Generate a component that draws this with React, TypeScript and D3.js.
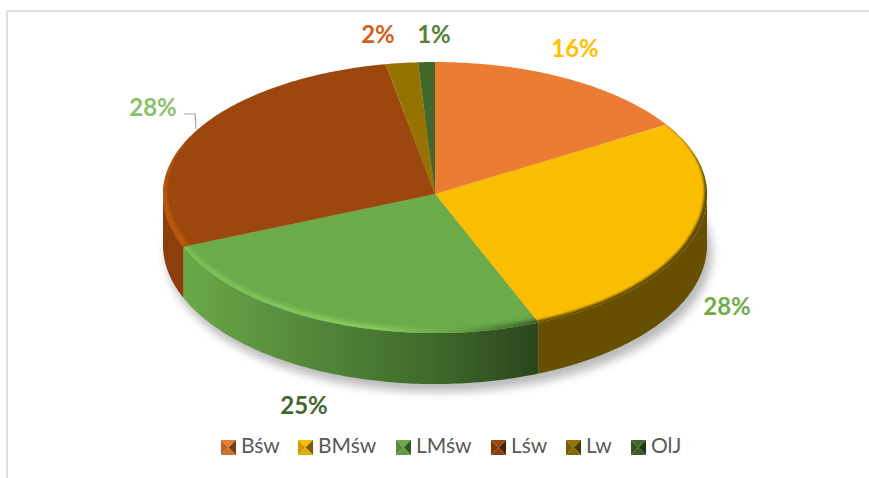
import React from "react";
import * as d3 from "d3";

const categories = ["Bśw", "BMśw", "LMśw", "Lśw", "Lw", "OlJ"];
const shares = [16.2, 27.6, 25.0, 28.3, 1.9, 1.0];
const topColors = ["#ea7d33", "#fbbd00", "#6cab4a", "#9b470d", "#967200", "#43682b"];
const sideColors = ["#8c4a1e", "#664f00", "url(#greenSide)", "#8d3f0b", "#5a4400", "#283e1a"];
const labelColors = ["#ffc000", "#70ad47", "#43682b", "#8cc168", "#d2601a", "#548235"];
const labelCenters: [number, number][] = [[575, 47], [727, 305], [304, 404], [153, 106], [378, 33], [434, 33]];
const legendLeft = [221, 298, 396, 491, 566, 631];

const W = 869, H = 478;
const cx = 435, cy = 194, rx = 272, ryBack = 132, ryFront = 139, depth = 51;

const pie = d3.pie<number>().sort(null)(shares);
const pt = (a: number, dy = 0, k = 1): [number, number] => {
  const c = Math.cos(a);
  return [cx + k * rx * Math.sin(a), cy + dy - k * (c > 0 ? ryBack : ryFront) * c];
};
const anglesBetween = (a0: number, a1: number) => {
  const n = Math.max(2, Math.ceil((a1 - a0) * 60));
  return d3.range(n + 1).map((i) => a0 + ((a1 - a0) * i) / n);
};
const lineGen = d3.line();

const topPath = (a0: number, a1: number) =>
  lineGen([[cx, cy], ...anglesBetween(a0, a1).map((a) => pt(a))]) + "Z";

function sidePath(a0: number, a1: number) {
  const s = Math.max(a0, Math.PI / 2), e = Math.min(a1, (3 * Math.PI) / 2);
  if (e <= s) return null;
  const as = anglesBetween(s, e);
  return lineGen([...as.map((a) => pt(a)), ...as.slice().reverse().map((a) => pt(a, depth))]) + "Z";
}
function rimLine(a0: number, a1: number, k = 1) {
  return lineGen(anglesBetween(a0, a1).map((a) => pt(a, 0, k))) as string;
}
// tapered band inside the top face's edge; taper maps an angle to a width in px
function crescent(a0: number, a1: number, taper: (a: number) => number) {
  const as = anglesBetween(a0, a1);
  return (
    lineGen([
      ...as.map((a) => pt(a, 0, 1.02)),
      ...as.slice().reverse().map((a) => pt(a, 0, 1 - taper(a) / rx)),
    ]) + "Z"
  );
}
const deg = (d: number) => (d * Math.PI) / 180;

function Swatch({ x, y, color }: { x: number; y: number; color: string }) {
  const s = 15;
  const c = d3.color(color)!;
  const mx = x + s / 2, my = y + s / 2;
  const tri = (a: [number, number], b: [number, number]) => lineGen([a, b, [mx, my]]) + "Z";
  return (
    <g>
      <path d={tri([x, y], [x + s, y])} fill={c.toString()} />
      <path d={tri([x + s, y], [x + s, y + s])} fill={c.darker(2).toString()} />
      <path d={tri([x, y + s], [x + s, y + s])} fill={c.darker(0.3).toString()} />
      <path d={tri([x, y], [x, y + s])} fill={c.darker(0.6).toString()} />
    </g>
  );
}

export default function App() {
  const [yellow, green, brown] = [pie[1], pie[2], pie[3]];
  return (
    <svg width={W} height={H} style={{ position: "fixed", left: 0, top: 0, background: "#fff" }}>
      <defs>
        <filter id="shadow" x="-20%" y="-20%" width="140%" height="140%">
          <feGaussianBlur stdDeviation="5" />
        </filter>
        <filter id="rimBlur" x="-20%" y="-20%" width="140%" height="140%">
          <feGaussianBlur stdDeviation="2" />
        </filter>
        <filter id="edgeBlur" x="-20%" y="-20%" width="140%" height="140%">
          <feGaussianBlur stdDeviation="1.1" />
        </filter>
        <linearGradient id="greenSide" gradientUnits="userSpaceOnUse" x1={183} x2={538} y1={0} y2={0}>
          <stop offset="0" stopColor="#6aa848" />
          <stop offset="0.35" stopColor="#54883a" />
          <stop offset="0.7" stopColor="#3f6a2b" />
          <stop offset="1" stopColor="#2b461d" />
        </linearGradient>
        <linearGradient id="greenRim" gradientUnits="userSpaceOnUse" x1={183} x2={538} y1={0} y2={0}>
          <stop offset="0" stopColor="#7cc456" />
          <stop offset="0.55" stopColor="#8ad062" />
          <stop offset="0.8" stopColor="#5f9b42" />
          <stop offset="1" stopColor="#33541f" />
        </linearGradient>
        <clipPath id="clipYellow"><path d={topPath(yellow.startAngle, yellow.endAngle)} /></clipPath>
        <clipPath id="clipGreen"><path d={topPath(green.startAngle, green.endAngle)} /></clipPath>
        <clipPath id="clipBrown"><path d={topPath(brown.startAngle, brown.endAngle)} /></clipPath>
      </defs>

      <rect x={6} y={10} width={W - 6} height={2} fill="#dedede" />
      <rect x={6} y={10} width={2} height={H - 10} fill="#dedede" />

      <ellipse cx={cx + 4} cy={cy + depth + 8} rx={rx + 1} ry={ryFront} fill="#000" opacity={0.27} filter="url(#shadow)" />

      {pie.map((d, i) => {
        const p = sidePath(d.startAngle, d.endAngle);
        return p ? <path key={i} d={p} fill={sideColors[i]} /> : null;
      })}
      {pie.map((d, i) => (
        <path key={i} d={topPath(d.startAngle, d.endAngle)} fill={topColors[i]} />
      ))}

      <g clipPath="url(#clipYellow)">
        <path
          d={crescent(yellow.startAngle, yellow.endAngle + 0.1, (a) => Math.min(4.5, Math.max(0, ((a - deg(65)) / deg(40)) * 4.5)))}
          fill="#5f4a00"
          filter="url(#edgeBlur)"
        />
      </g>
      <g clipPath="url(#clipGreen)">
        <path
          d={rimLine(green.startAngle - 0.1, green.endAngle + 0.1, 0.995)}
          fill="none"
          stroke="url(#greenRim)"
          strokeWidth={6}
          filter="url(#rimBlur)"
        />
      </g>
      <g clipPath="url(#clipBrown)">
        <path
          d={crescent(brown.startAngle - 0.05, deg(300), (a) => Math.max(0, ((deg(300) - a) / deg(52)) * 7.5))}
          fill="#b9540f"
          filter="url(#edgeBlur)"
        />
      </g>

      <path d={lineGen([[184, 114], [195, 114], [196, 129]]) as string} fill="none" stroke="#a6a6a6" strokeWidth={1.2} />

      {labelCenters.map(([x, y], i) => (
        <text key={i} x={x} y={y} textAnchor="middle" dominantBaseline="central" fontFamily="Lato" fontWeight={700} fontSize={24} fill={labelColors[i]}>
          {`${Math.round(shares[i])}%`}
        </text>
      ))}

      {categories.map((c, i) => (
        <g key={c}>
          <Swatch x={legendLeft[i]} y={440} color={topColors[i]} />
          <text x={legendLeft[i] + 20} y={453} fontFamily="Lato" fontSize={21} fill="#595959">{c}</text>
        </g>
      ))}
    </svg>
  );
}
